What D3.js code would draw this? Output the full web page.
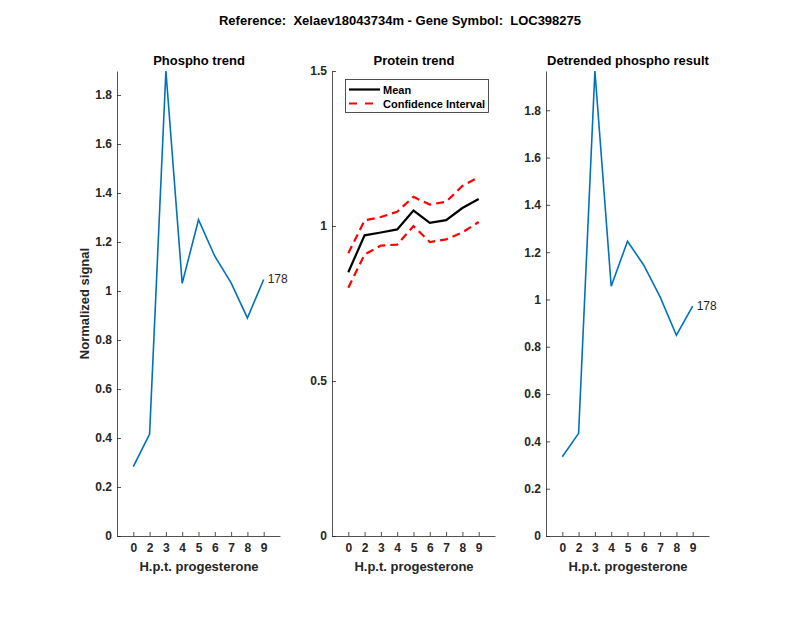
<!DOCTYPE html>
<html>
<head>
<meta charset="utf-8">
<script src="https://cdn.jsdelivr.net/npm/d3@7"></script>
<style>
  body { margin: 0; background: #fff; }
  svg { font-family: "Liberation Sans", Arial, sans-serif; }
</style>
</head>
<body>
<div class="chart"></div>
<script>
// data
const tickLabels = ['0', '2', '3', '4', '5', '6', '7', '8', '9'];
const phospho = [0.283, 0.416, 1.898, 1.031, 1.291, 1.142, 1.033, 0.89, 1.047];
const proteinMean = [0.851, 0.97, 0.979, 0.989, 1.05, 1.01, 1.019, 1.058, 1.087];
const proteinUpper = [0.912, 1.018, 1.029, 1.046, 1.094, 1.069, 1.078, 1.129, 1.158];
const proteinLower = [0.801, 0.908, 0.937, 0.94, 1.0, 0.948, 0.957, 0.979, 1.013];
const detrended = [0.335, 0.434, 1.966, 1.056, 1.246, 1.145, 1.011, 0.849, 0.972];
const peptideLabel = '178';

const w = 800;
const h = 618;
const plotTop = 71;
const plotBottom = 536;
const axColor = '#262626';

const svg = d3
  .select('.chart')
  .append('svg')
  .attr('width', w)
  .attr('height', h);

svg
  .append('text')
  .attr('x', 400)
  .attr('y', 25)
  .attr('text-anchor', 'middle')
  .style('white-space', 'pre')
  .style('font-size', '13px')
  .style('font-weight', 'bold')
  .text('Reference:  Xelaev18043734m - Gene Symbol:  LOC398275');

function panel(left, yMax, yTicks, title, fmt) {
  const xScale = d3.scaleLinear().domain([0, 10]).range([left, left + 163]);
  const yScale = d3.scaleLinear().domain([0, yMax]).range([plotBottom, plotTop]);
  const g = svg.append('g');

  const xAxis = d3
    .axisBottom(xScale)
    .tickValues(d3.range(1, 10))
    .tickFormat((d, i) => tickLabels[i])
    .tickSizeInner(-4)
    .tickSizeOuter(0)
    .tickPadding(7);
  const gx = g.append('g').attr('transform', `translate(0, ${plotBottom})`).call(xAxis);

  const yAxis = d3
    .axisLeft(yScale)
    .tickValues(yTicks)
    .tickFormat(fmt)
    .tickSizeInner(-4)
    .tickSizeOuter(0)
    .tickPadding(5);
  const gy = g.append('g').attr('transform', `translate(${left}, 0)`).call(yAxis);

  [gx, gy].forEach((a) => {
    a.selectAll('path, line').attr('stroke', axColor).attr('stroke-width', 0.8);
    a.selectAll('text')
      .attr('fill', axColor)
      .style('font-size', '12px')
      .style('font-weight', 'bold')
      .style('font-family', '"Liberation Sans", Arial, sans-serif');
  });

  g.append('text')
    .attr('x', left + 82)
    .attr('y', 65)
    .attr('text-anchor', 'middle')
    .style('font-size', '13px')
    .style('font-weight', 'bold')
    .text(title);

  g.append('text')
    .attr('x', left + 82)
    .attr('y', 571)
    .attr('text-anchor', 'middle')
    .attr('fill', axColor)
    .style('font-size', '13px')
    .style('font-weight', 'bold')
    .text('H.p.t. progesterone');

  return { g, xScale, yScale };
}

function drawLine(p, values, color, width, dash) {
  const line = d3
    .line()
    .x((d, i) => p.xScale(i + 1))
    .y((d) => p.yScale(d));
  const path = p.g
    .append('path')
    .datum(values)
    .attr('fill', 'none')
    .attr('stroke', color)
    .attr('stroke-width', width)
    .attr('d', line);
  if (dash) path.attr('stroke-dasharray', dash);
}

const fmt1 = (d) => (d === 0 || d === 1 ? String(d) : d.toFixed(1));

// Phospho trend
const p1 = panel(117, 1.898, [0, 0.2, 0.4, 0.6, 0.8, 1, 1.2, 1.4, 1.6, 1.8], 'Phospho trend', fmt1);
drawLine(p1, phospho, '#0072BD', 1.6);
p1.g
  .append('text')
  .attr('x', p1.xScale(9) + 4)
  .attr('y', p1.yScale(phospho[8]) + 4)
  .style('font-size', '12px')
  .attr('fill', '#262626')
  .text(peptideLabel);

svg
  .append('text')
  .attr('transform', `translate(89, ${(plotTop + plotBottom) / 2}) rotate(-90)`)
  .attr('text-anchor', 'middle')
  .attr('fill', axColor)
  .style('font-size', '13px')
  .style('font-weight', 'bold')
  .text('Normalized signal');

// Protein trend
const p2 = panel(332, 1.5, [0, 0.5, 1, 1.5], 'Protein trend', fmt1);
drawLine(p2, proteinUpper, '#FF0000', 2.2, '8,5');
drawLine(p2, proteinLower, '#FF0000', 2.2, '8,5');
drawLine(p2, proteinMean, '#000000', 2.2);

// legend
const lg = p2.g.append('g');
lg.append('rect')
  .attr('x', 345.5)
  .attr('y', 79.5)
  .attr('width', 143)
  .attr('height', 33)
  .attr('fill', '#fff')
  .attr('stroke', axColor)
  .attr('stroke-width', 0.8);
lg.append('line')
  .attr('x1', 349).attr('x2', 380)
  .attr('y1', 89.5).attr('y2', 89.5)
  .attr('stroke', '#000').attr('stroke-width', 2.2);
lg.append('line')
  .attr('x1', 349).attr('x2', 380)
  .attr('y1', 103.5).attr('y2', 103.5)
  .attr('stroke', '#FF0000').attr('stroke-width', 2.2)
  .attr('stroke-dasharray', '8,8');
lg.append('text')
  .attr('x', 383).attr('y', 93.5)
  .style('font-size', '11px').style('font-weight', 'bold')
  .text('Mean');
lg.append('text')
  .attr('x', 383).attr('y', 107.5)
  .style('font-size', '11px').style('font-weight', 'bold')
  .text('Confidence Interval');

// Detrended phospho result
const p3 = panel(546, 1.966, [0, 0.2, 0.4, 0.6, 0.8, 1, 1.2, 1.4, 1.6, 1.8], 'Detrended phospho result', fmt1);
drawLine(p3, detrended, '#0072BD', 1.6);
p3.g
  .append('text')
  .attr('x', p3.xScale(9) + 4)
  .attr('y', p3.yScale(detrended[8]) + 4)
  .style('font-size', '12px')
  .attr('fill', '#262626')
  .text(peptideLabel);
</script>
</body>
</html>
